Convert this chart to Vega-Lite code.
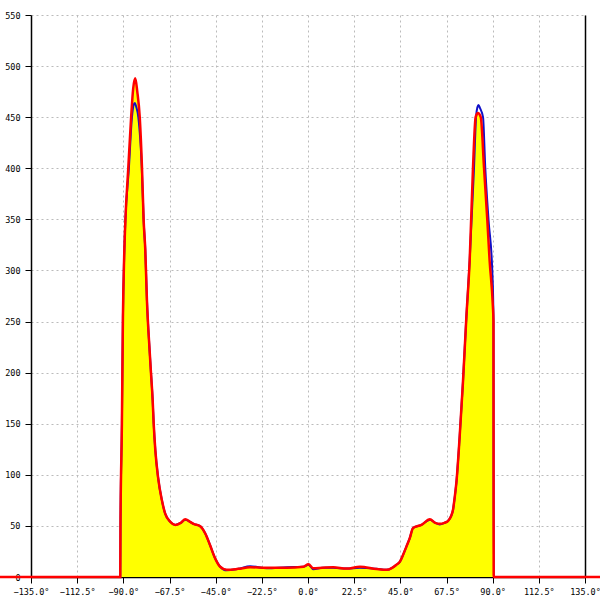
{
  "$schema": "https://vega.github.io/schema/vega-lite/v6.json",
  "width": 554,
  "height": 562,
  "autosize": {"type": "none"},
  "padding": {"left": 31, "top": 15, "right": 15, "bottom": 23},
  "background": "white",
  "config": {
    "view": {"stroke": null},
    "axis": {
      "labelFont": "DejaVu Sans Mono",
      "labelFontSize": 8.5,
      "labelColor": "#000000",
      "domainColor": "#000000",
      "domainWidth": 1.5,
      "tickColor": "#000000",
      "tickSize": 6,
      "tickWidth": 1,
      "gridColor": "#bbbbbb",
      "gridDash": [2, 3],
      "gridWidth": 1,
      "title": null,
      "labelOverlap": false,
      "labelFlush": false
    }
  },
  "datasets": {
    "red": [
      {"a": -180, "v": 0}, {"a": -91.5, "v": 0}, {"a": -91.4, "v": 49}, {"a": -90.7, "v": 150},
      {"a": -90.2, "v": 254}, {"a": -89.6, "v": 313}, {"a": -89.0, "v": 349}, {"a": -87.6, "v": 400}, {"a": -86.2, "v": 450},
      {"a": -85.2, "v": 478}, {"a": -84.2, "v": 488}, {"a": -83.2, "v": 475}, {"a": -82.0, "v": 450},
      {"a": -80.9, "v": 400}, {"a": -80.1, "v": 349}, {"a": -79.3, "v": 320}, {"a": -78.5, "v": 271},
      {"a": -77.2, "v": 222}, {"a": -76.5, "v": 199}, {"a": -75.7, "v": 173}, {"a": -75.2, "v": 150},
      {"a": -74.4, "v": 124}, {"a": -73.1, "v": 98}, {"a": -71.2, "v": 75}, {"a": -69.6, "v": 62},
      {"a": -67.1, "v": 54}, {"a": -64.7, "v": 51}, {"a": -62, "v": 53}, {"a": -59.8, "v": 56.5},
      {"a": -57.5, "v": 54}, {"a": -55.8, "v": 52}, {"a": -52.5, "v": 49.6}, {"a": -50.1, "v": 42.7},
      {"a": -47.7, "v": 31}, {"a": -45.2, "v": 18}, {"a": -42.8, "v": 10}, {"a": -39.6, "v": 7},
      {"a": -34, "v": 8}, {"a": -28.2, "v": 9.5}, {"a": -20.1, "v": 9.1}, {"a": -10.4, "v": 9.1},
      {"a": -2.3, "v": 10}, {"a": 0.2, "v": 12.4}, {"a": 2.6, "v": 8.5}, {"a": 7, "v": 9},
      {"a": 12.3, "v": 9.5}, {"a": 18.8, "v": 8.2}, {"a": 25.3, "v": 10}, {"a": 33.4, "v": 7.8},
      {"a": 38.3, "v": 7}, {"a": 41, "v": 9}, {"a": 43.1, "v": 12}, {"a": 44.8, "v": 15},
      {"a": 46.4, "v": 22}, {"a": 48.0, "v": 30}, {"a": 49.6, "v": 38}, {"a": 51.2, "v": 48},
      {"a": 55.3, "v": 51}, {"a": 59.4, "v": 56.5}, {"a": 62, "v": 53}, {"a": 64.2, "v": 52},
      {"a": 66.5, "v": 53}, {"a": 68.3, "v": 55}, {"a": 69.6, "v": 59}, {"a": 70.7, "v": 66},
      {"a": 71.5, "v": 78}, {"a": 72.3, "v": 92}, {"a": 73.9, "v": 137}, {"a": 75.5, "v": 190},
      {"a": 77.2, "v": 255}, {"a": 78.8, "v": 310}, {"a": 80.4, "v": 400}, {"a": 81.7, "v": 450},
      {"a": 82.8, "v": 454}, {"a": 84.2, "v": 450}, {"a": 85.8, "v": 400}, {"a": 87.4, "v": 349},
      {"a": 88.5, "v": 310}, {"a": 90.1, "v": 265}, {"a": 90.4, "v": 250}, {"a": 90.5, "v": 0},
      {"a": 180, "v": 0}
    ],
    "blue": [
      {"a": -180, "v": 0}, {"a": -91.5, "v": 0}, {"a": -91.4, "v": 49}, {"a": -90.7, "v": 150},
      {"a": -90.2, "v": 254}, {"a": -89.6, "v": 313}, {"a": -89.0, "v": 349}, {"a": -87.3, "v": 400}, {"a": -85.8, "v": 450},
      {"a": -85.0, "v": 462}, {"a": -84.4, "v": 464}, {"a": -83.7, "v": 460}, {"a": -82.7, "v": 450},
      {"a": -81.0, "v": 400}, {"a": -80.1, "v": 349}, {"a": -79.3, "v": 320}, {"a": -78.5, "v": 271},
      {"a": -77.2, "v": 222}, {"a": -76.5, "v": 199}, {"a": -75.7, "v": 173}, {"a": -75.2, "v": 150},
      {"a": -74.4, "v": 124}, {"a": -73.1, "v": 98}, {"a": -71.2, "v": 75}, {"a": -69.6, "v": 62},
      {"a": -67.1, "v": 54}, {"a": -64.7, "v": 51}, {"a": -62, "v": 53}, {"a": -59.8, "v": 56},
      {"a": -57.5, "v": 54}, {"a": -55.8, "v": 52}, {"a": -52.5, "v": 49.6}, {"a": -50.1, "v": 42.7},
      {"a": -47.7, "v": 31}, {"a": -45.2, "v": 18}, {"a": -42.8, "v": 10}, {"a": -39.6, "v": 6.5},
      {"a": -34, "v": 8}, {"a": -28.2, "v": 10.5}, {"a": -20.1, "v": 8.5}, {"a": -10.4, "v": 9.5},
      {"a": -2.3, "v": 10}, {"a": 0.2, "v": 12}, {"a": 2.6, "v": 7.5}, {"a": 7, "v": 9},
      {"a": 12.3, "v": 9}, {"a": 18.8, "v": 8.2}, {"a": 25.3, "v": 9}, {"a": 33.4, "v": 8},
      {"a": 38.3, "v": 7}, {"a": 41, "v": 9}, {"a": 43.1, "v": 12}, {"a": 44.8, "v": 15},
      {"a": 46.4, "v": 22}, {"a": 48.0, "v": 30}, {"a": 49.6, "v": 38}, {"a": 51.2, "v": 48},
      {"a": 55.3, "v": 51}, {"a": 59.4, "v": 56}, {"a": 62, "v": 53}, {"a": 64.2, "v": 51.5},
      {"a": 66.5, "v": 53}, {"a": 68.3, "v": 55}, {"a": 69.6, "v": 59}, {"a": 70.7, "v": 66},
      {"a": 71.5, "v": 78}, {"a": 72.3, "v": 92}, {"a": 73.9, "v": 137}, {"a": 75.5, "v": 190},
      {"a": 77.2, "v": 255}, {"a": 78.8, "v": 310}, {"a": 80.9, "v": 400}, {"a": 81.9, "v": 450},
      {"a": 82.6, "v": 460}, {"a": 83.1, "v": 462}, {"a": 83.8, "v": 459}, {"a": 85.3, "v": 450},
      {"a": 86.4, "v": 400}, {"a": 88.0, "v": 349}, {"a": 89.8, "v": 300}, {"a": 90.3, "v": 265},
      {"a": 90.4, "v": 250}, {"a": 90.5, "v": 0}, {"a": 180, "v": 0}
    ]
  },
  "layer": [
    {
      "data": {"name": "red"},
      "mark": {"type": "area", "color": "#ffff00", "clip": false, "interpolate": "monotone"},
      "encoding": {
        "x": {
          "field": "a", "type": "quantitative",
          "scale": {"domain": [-135, 135], "nice": false, "zero": false},
          "axis": {
            "values": [-135, -112.5, -90, -67.5, -45, -22.5, 0, 22.5, 45, 67.5, 90, 112.5, 135],
            "labelExpr": "format(datum.value, '.1f') + '°'",
            "labelPadding": 4,
            "grid": true
          }
        },
        "y": {
          "field": "v", "type": "quantitative",
          "scale": {"domain": [0, 550], "nice": false},
          "axis": {
            "values": [0, 50, 100, 150, 200, 250, 300, 350, 400, 450, 500, 550],
            "labelPadding": 5,
            "grid": true
          }
        }
      }
    },
    {
      "data": {"name": "blue"},
      "mark": {"type": "line", "color": "#1010c8", "strokeWidth": 2, "clip": false, "interpolate": "monotone"},
      "encoding": {
        "x": {"field": "a", "type": "quantitative"},
        "y": {
          "field": "v", "type": "quantitative",
          "axis": {"orient": "right", "labels": false, "ticks": false, "grid": false, "domainColor": "#000000"}
        }
      }
    },
    {
      "data": {"name": "red"},
      "mark": {"type": "line", "color": "#ff0000", "strokeWidth": 2.5, "clip": false, "interpolate": "monotone"},
      "encoding": {
        "x": {"field": "a", "type": "quantitative"},
        "y": {"field": "v", "type": "quantitative", "axis": null}
      }
    }
  ],
  "resolve": {"axis": {"y": "independent"}}
}
